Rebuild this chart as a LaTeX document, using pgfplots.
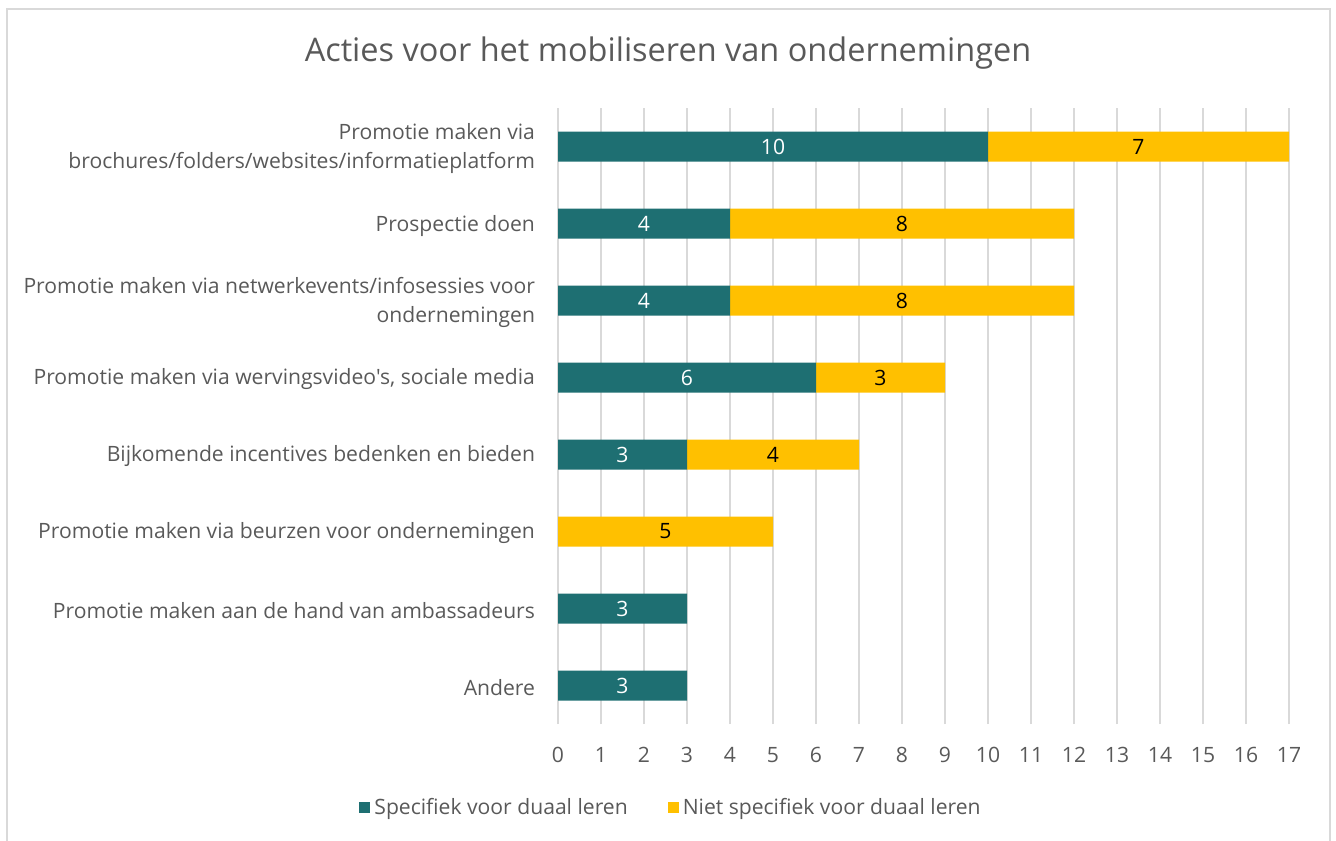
\documentclass[border=0pt]{standalone}
\usepackage{pgfplots}
\pgfplotsset{compat=1.18}
\usepackage{fontspec}
\setmainfont{Open Sans}[Ligatures=TeXOff]
\definecolor{teal1}{RGB}{30,111,114}
\definecolor{gold1}{RGB}{255,192,0}
\definecolor{txtgray}{RGB}{89,89,89}
\definecolor{gridgray}{RGB}{217,217,217}
\definecolor{framegray}{RGB}{217,217,217}
\begin{document}
\begin{tikzpicture}
\clip (0,0) rectangle (668bp,420.5bp);
\draw[framegray, line width=1bp] (3.5bp,-5bp) -- (3.5bp,416bp) -- (665bp,416bp) -- (665bp,-5bp);
\node[txtgray, font=\fontsize{16.3}{19}\selectfont] at (334bp,394bp) {Acties voor het mobiliseren van ondernemingen};
\begin{axis}[
  at={(279bp,58.5bp)}, anchor=south west,
  scale only axis, width=365.5bp, height=308bp,
  xbar stacked, bar width=15bp,
  xmin=0, xmax=17, ymin=-0.5, ymax=7.5,
  xtick={0,1,...,17}, ytick={0,1,...,7},
  yticklabels={Andere, Promotie maken aan de hand van ambassadeurs, Promotie maken via beurzen voor ondernemingen, Bijkomende incentives bedenken en bieden, {Promotie maken via wervingsvideo's, sociale media}, {Promotie maken via netwerkevents/infosessies voor\\ondernemingen}, Prospectie doen, {Promotie maken via\\brochures/folders/websites/informatieplatform}},
  yticklabel style={align=right, font=\fontsize{10.6}{15}\selectfont, text=txtgray, xshift=-8bp, yshift=-1bp},
  xticklabel style={font=\fontsize{10.6}{12}\selectfont, text=txtgray, yshift=-8bp},
  /pgf/number format/assume math mode=true,
  axis line style={draw=none},
  major tick length=0pt,
  xmajorgrids, grid style={gridgray, line width=0.9bp},
  legend style={at={(axis description cs:0.156,-0.136)}, anchor=center, draw=none, legend columns=2, font=\fontsize{10.6}{12}\selectfont, text=txtgray, /tikz/every even column/.append style={column sep=18bp}},
  legend image code/.code={\fill[#1] (0bp,-2.6bp) rectangle (5.5bp,2.9bp);},
  clip=false,
]
\addplot[fill=teal1, draw=none] coordinates {(3,0) (3,1) (0,2) (3,3) (6,4) (4,5) (4,6) (10,7)};
\addplot[fill=gold1, draw=none] coordinates {(0,0) (0,1) (5,2) (4,3) (3,4) (8,5) (8,6) (7,7)};
\legend{Specifiek voor duaal leren, Niet specifiek voor duaal leren}
\end{axis}
\begin{axis}[
  at={(279bp,58.5bp)}, anchor=south west,
  scale only axis, width=365.5bp, height=308bp,
  xmin=0, xmax=17, ymin=-0.5, ymax=7.5,
  hide axis, clip=false,
]
\addplot[only marks, mark=none, nodes near coords, point meta=explicit symbolic,
  nodes near coords align=center,
  every node near coord/.append style={anchor=center, text=white, font=\fontsize{10.6}{12}\selectfont}]
  coordinates {(1.5,0) [3] (1.5,1) [3] (1.5,3) [3] (3,4) [6] (2,5) [4] (2,6) [4] (5,7) [10]};
\addplot[only marks, mark=none, nodes near coords, point meta=explicit symbolic,
  nodes near coords align=center,
  every node near coord/.append style={anchor=center, text=black, font=\fontsize{10.6}{12}\selectfont}]
  coordinates {(2.5,2) [5] (5,3) [4] (7.5,4) [3] (8,5) [8] (8,6) [8] (13.5,7) [7]};
\end{axis}
\end{tikzpicture}
\end{document}
